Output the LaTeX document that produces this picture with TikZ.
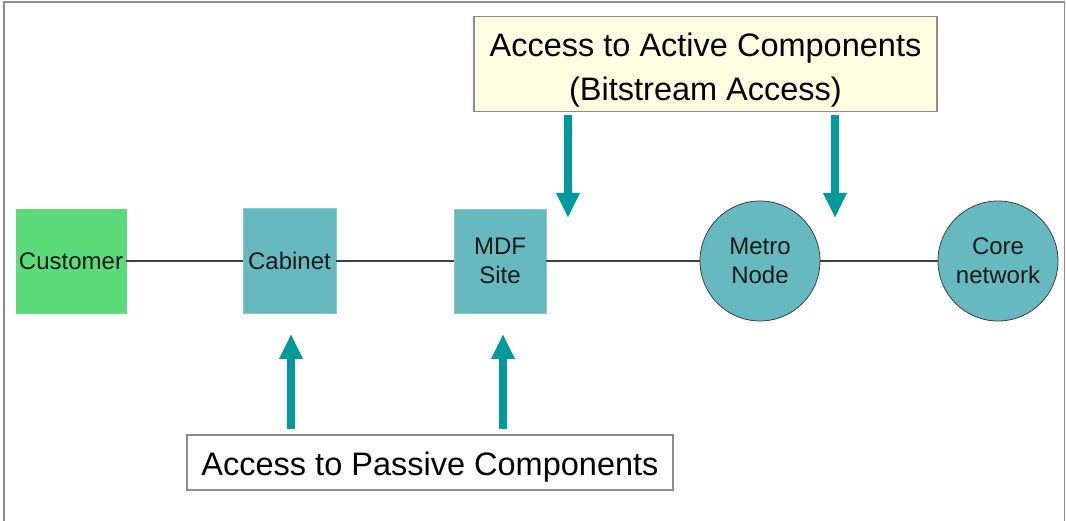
\documentclass[tikz,border=0pt]{standalone}
\usepackage{fontspec}
\setmainfont{Liberation Sans}
\usetikzlibrary{arrows.meta}
\definecolor{custgreen}{HTML}{5CDB7B}
\definecolor{nodeteal}{HTML}{66B9BF}
\definecolor{arrowteal}{HTML}{009A9A}
\definecolor{notefill}{HTML}{FFFFE1}
\definecolor{framegray}{HTML}{8C8C8C}
\definecolor{linkgray}{HTML}{404040}
\definecolor{labelink}{HTML}{1A1A1A}
\tikzset{
  x=1pt, y=-1pt,
  sitebox/.style={rectangle, inner sep=0pt, fill=nodeteal, draw=nodeteal!80!white,
    line width=0.6pt, align=center, text=labelink, font=\fontsize{24}{29}\selectfont},
  sitecircle/.style={circle, inner sep=0pt, minimum size=120pt, fill=nodeteal,
    draw=linkgray, line width=0.8pt, align=center, text=labelink, font=\fontsize{24}{29}\selectfont},
  notebox/.style={rectangle, inner sep=0pt, draw=framegray, line width=1.4pt,
    align=center, font=\fontsize{32.5}{44}\selectfont},
  link/.style={draw=linkgray, line width=2pt},
  accarrow/.style={draw=arrowteal, line width=8pt,
    -{Triangle[width=22pt,length=25pt,fill=arrowteal]}},
}
\begin{document}
\begin{tikzpicture}
  \useasboundingbox (0,0) rectangle (1066,521);
  % outer frame
  \draw[framegray, line width=1.4pt] (4,521) -- (4,2) -- (1064.5,2) -- (1064.5,521);

  % network elements
  \node[sitebox, fill=custgreen, draw=custgreen, minimum width=110pt, minimum height=104pt] (cust) at (71,261) {Customer};
  \node[sitebox, minimum width=93pt, minimum height=105pt] (cab) at (289.5,261) {Cabinet};
  \node[sitebox, minimum width=92pt, minimum height=104pt] (mdf) at (500,261) {MDF\\Site};
  \node[sitecircle] (metro) at (760,261) {Metro\\Node};
  \node[sitecircle] (core) at (998,261) {Core\\network};

  % links between elements
  \draw[link] (cust.east) -- (cab.west);
  \draw[link] (cab.east) -- (mdf.west);
  \draw[link] (mdf.east) -- (metro.west);
  \draw[link] (metro.east) -- (core.west);

  % access points (struts set the baselines inside the boxes)
  \node[notebox, fill=notefill, minimum width=463pt, minimum height=95pt] (active) at (705.5,64)
    {\rule{0pt}{36.7pt}Access to Active Components\\(Bitstream Access)};
  \node[notebox, fill=white, minimum width=486pt, minimum height=55pt] (passive) at (430,462.5)
    {\rule{0pt}{31.8pt}Access to Passive Components};

  \coordinate (a1) at (568,218);
  \coordinate (a2) at (835,218);
  \coordinate (p1) at (291,334);
  \coordinate (p2) at (503,334);

  \draw[accarrow, shorten <=3pt] (active.south -| a1) -- (a1);
  \draw[accarrow, shorten <=3pt] (active.south -| a2) -- (a2);
  \draw[accarrow, shorten <=5pt] (passive.north -| p1) -- (p1);
  \draw[accarrow, shorten <=5pt] (passive.north -| p2) -- (p2);
\end{tikzpicture}
\end{document}
